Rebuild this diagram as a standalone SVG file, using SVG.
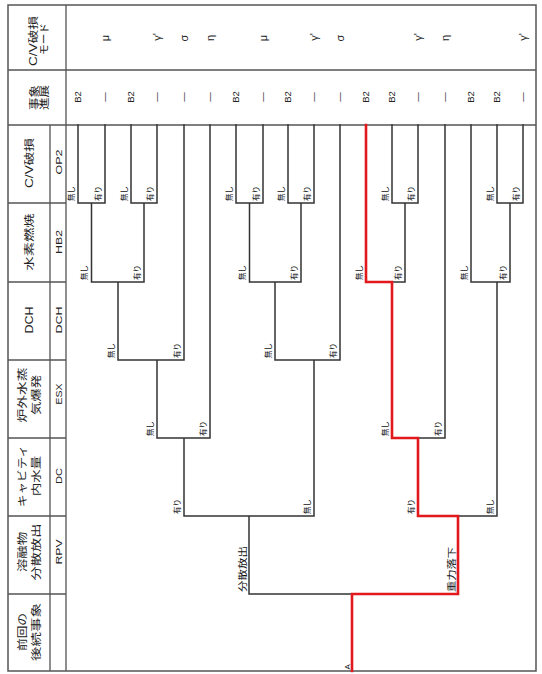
<svg xmlns="http://www.w3.org/2000/svg" width="542" height="674" viewBox="0 0 542 674">
<style>
.frame{fill:none;stroke:#555;stroke-width:1.5}
.grid{stroke:#555;stroke-width:1.3;fill:none}
.tree{stroke:#333;stroke-width:1.5;fill:none;stroke-linecap:square}
.red{stroke:#e3181c;stroke-width:2.6;fill:none;stroke-linecap:square;stroke-linejoin:miter}
.hd{font-family:"Liberation Sans","Noto Sans CJK JP",sans-serif;font-size:10.5px;fill:#222;text-anchor:middle}
.code{font-family:"Liberation Sans",sans-serif;font-size:9px;fill:#222;text-anchor:middle}
.val{font-family:"Liberation Sans",sans-serif;font-size:9.5px;fill:#222;text-anchor:middle}
.mode{font-family:"Liberation Sans","DejaVu Sans",sans-serif;font-size:11px;fill:#222;text-anchor:middle}
.lb{font-family:"Liberation Sans","Noto Sans CJK JP",sans-serif;font-size:7.5px;fill:#111}
.lb2{font-family:"Liberation Sans","Noto Sans CJK JP",sans-serif;font-size:9px;fill:#111}
</style>
<rect width="542" height="674" fill="#fff"/>
<g id="table">
<rect class="frame" x="8" y="5" width="528" height="666"/>
<path class="grid" d="M66 5V671M50 125V671M8 70H536M8 125H536M8 203H66M8 282H66M8 360H66M8 438H66M8 516H66M8 594H66"/>
</g>
<g id="hdr-mode">
<text class="hd" transform="translate(37,41) rotate(-90)" textLength="50" lengthAdjust="spacingAndGlyphs">C/V破損</text>
<text class="hd" transform="translate(48,39) rotate(-90)" textLength="32" lengthAdjust="spacingAndGlyphs">モード</text>
</g>
<g id="hdr-prog">
<text class="hd" transform="translate(38,97.5) rotate(-90)" textLength="25" lengthAdjust="spacingAndGlyphs">事象</text>
<text class="hd" transform="translate(48,97.5) rotate(-90)" textLength="25" lengthAdjust="spacingAndGlyphs">進展</text>
</g>
<g id="hdr-op2">
<text class="hd" transform="translate(33,163) rotate(-90)" textLength="50" lengthAdjust="spacingAndGlyphs">C/V破損</text>
<text class="code" transform="translate(61.5,162) rotate(-90)" textLength="25" lengthAdjust="spacingAndGlyphs">OP2</text>
</g>
<g id="hdr-hb2">
<text class="hd" transform="translate(33,242) rotate(-90)" textLength="57" lengthAdjust="spacingAndGlyphs">水素燃焼</text>
<text class="code" transform="translate(61.5,242) rotate(-90)" textLength="24" lengthAdjust="spacingAndGlyphs">HB2</text>
</g>
<g id="hdr-dch">
<text class="hd" transform="translate(33,320) rotate(-90)" textLength="27" lengthAdjust="spacingAndGlyphs">DCH</text>
<text class="code" transform="translate(61.5,320) rotate(-90)" textLength="27" lengthAdjust="spacingAndGlyphs">DCH</text>
</g>
<g id="hdr-esx">
<text class="hd" transform="translate(26,395) rotate(-90)" textLength="55" lengthAdjust="spacingAndGlyphs">炉外水蒸</text>
<text class="hd" transform="translate(40,395) rotate(-90)" textLength="40" lengthAdjust="spacingAndGlyphs">気爆発</text>
<text class="code" transform="translate(61.5,394) rotate(-90)" textLength="21" lengthAdjust="spacingAndGlyphs">ESX</text>
</g>
<g id="hdr-dc">
<text class="hd" transform="translate(26,476) rotate(-90)" textLength="62" lengthAdjust="spacingAndGlyphs">キャビティ</text>
<text class="hd" transform="translate(40,476) rotate(-90)" textLength="40" lengthAdjust="spacingAndGlyphs">内水量</text>
<text class="code" transform="translate(61.5,476) rotate(-90)" textLength="16" lengthAdjust="spacingAndGlyphs">DC</text>
</g>
<g id="hdr-rpv">
<text class="hd" transform="translate(26,552) rotate(-90)" textLength="40" lengthAdjust="spacingAndGlyphs">溶融物</text>
<text class="hd" transform="translate(40,552) rotate(-90)" textLength="57" lengthAdjust="spacingAndGlyphs">分散放出</text>
<text class="code" transform="translate(61.5,552) rotate(-90)" textLength="25" lengthAdjust="spacingAndGlyphs">RPV</text>
</g>
<g id="hdr-prev">
<text class="hd" transform="translate(26,632) rotate(-90)" textLength="38" lengthAdjust="spacingAndGlyphs">前回の</text>
<text class="hd" transform="translate(40,632) rotate(-90)" textLength="58" lengthAdjust="spacingAndGlyphs">後続事象</text>
</g>
<g id="connectors">
<path class="tree" d="M78 125V203M105 125V203M131 125V203M157 125V203M184 125V360M210 125V438M236 125V203M263 125V203M288 125V203M314 125V203M340 125V360M392 125V203M418 125V203M445 125V438M471 125V282M497 125V203M523 125V203
M78 203H105M131 203H157M236 203H263M288 203H314M392 203H418M497 203H523
M91.5 203V282M144 203V282M249.5 203V282M301 203V282M405 203V282M510 203V282
M91.5 282H144M249.5 282H301M392 282H405M471 282H510
M118 282V360M275 282V360M497 282V516
M118 360H184M275 360H340
M157 360V438M314 360V516
M157 438H210M418 438H445
M184 438V516
M184 516H314M458 516H497
M249 516V594M249 594H352"/>
<path class="red" d="M352 671V594H458V516H418V438H392V282H366V125"/>
</g>
<g id="branch-labels">
<g class="lb">
<text transform="translate(73.5,201) rotate(-90)">無し</text>
<text transform="translate(100.5,201) rotate(-90)">有り</text>
<text transform="translate(126.5,201) rotate(-90)">無し</text>
<text transform="translate(152.5,201) rotate(-90)">有り</text>
<text transform="translate(231.5,201) rotate(-90)">無し</text>
<text transform="translate(258.5,201) rotate(-90)">有り</text>
<text transform="translate(283.5,201) rotate(-90)">無し</text>
<text transform="translate(309.5,201) rotate(-90)">有り</text>
<text transform="translate(387.5,201) rotate(-90)">無し</text>
<text transform="translate(413.5,201) rotate(-90)">有り</text>
<text transform="translate(492.5,201) rotate(-90)">無し</text>
<text transform="translate(518.5,201) rotate(-90)">有り</text>
<text transform="translate(87,280) rotate(-90)">無し</text>
<text transform="translate(139.5,280) rotate(-90)">有り</text>
<text transform="translate(245,280) rotate(-90)">無し</text>
<text transform="translate(296.5,280) rotate(-90)">有り</text>
<text transform="translate(361.5,280) rotate(-90)">無し</text>
<text transform="translate(400.5,280) rotate(-90)">有り</text>
<text transform="translate(466.5,280) rotate(-90)">無し</text>
<text transform="translate(505.5,280) rotate(-90)">有り</text>
<text transform="translate(113.5,358) rotate(-90)">無し</text>
<text transform="translate(179.5,358) rotate(-90)">有り</text>
<text transform="translate(270.5,358) rotate(-90)">無し</text>
<text transform="translate(335.5,358) rotate(-90)">有り</text>
<text transform="translate(152.5,436) rotate(-90)">無し</text>
<text transform="translate(205.5,436) rotate(-90)">有り</text>
<text transform="translate(387.5,436) rotate(-90)">無し</text>
<text transform="translate(440.5,436) rotate(-90)">有り</text>
<text transform="translate(179.5,514) rotate(-90)">有り</text>
<text transform="translate(309.5,514) rotate(-90)">無し</text>
<text transform="translate(413.5,514) rotate(-90)">有り</text>
<text transform="translate(492.5,514) rotate(-90)">無し</text>
</g>
<g class="lb2">
<text transform="translate(246,592) rotate(-90)" textLength="46" lengthAdjust="spacingAndGlyphs">分散放出</text>
<text transform="translate(455,592) rotate(-90)" textLength="45" lengthAdjust="spacingAndGlyphs">重力落下</text>
<text transform="translate(350,669.5) rotate(-90)" style="font-size:8px">A</text>
</g>
</g>
<g id="outcomes">
<g class="val">
<text transform="translate(81.4,97) rotate(-90)">B2</text>
<text transform="translate(108,97) rotate(-90)">—</text>
<text transform="translate(134.4,97) rotate(-90)">B2</text>
<text transform="translate(160,97) rotate(-90)">—</text>
<text transform="translate(187,97) rotate(-90)">—</text>
<text transform="translate(213,97) rotate(-90)">—</text>
<text transform="translate(239.4,97) rotate(-90)">B2</text>
<text transform="translate(266,97) rotate(-90)">—</text>
<text transform="translate(291.4,97) rotate(-90)">B2</text>
<text transform="translate(317,97) rotate(-90)">—</text>
<text transform="translate(343,97) rotate(-90)">—</text>
<text transform="translate(369.4,97) rotate(-90)">B2</text>
<text transform="translate(395.4,97) rotate(-90)">B2</text>
<text transform="translate(421,97) rotate(-90)">—</text>
<text transform="translate(448,97) rotate(-90)">—</text>
<text transform="translate(474.4,97) rotate(-90)">B2</text>
<text transform="translate(500.4,97) rotate(-90)">B2</text>
<text transform="translate(526,97) rotate(-90)">—</text>
</g>
<g class="mode">
<text transform="translate(108.5,38) rotate(-90)">μ</text>
<text transform="translate(160.5,37) rotate(-90)">γ'</text>
<text transform="translate(187.5,38) rotate(-90)">σ</text>
<text transform="translate(213.5,38) rotate(-90)">η</text>
<text transform="translate(266.5,38) rotate(-90)">μ</text>
<text transform="translate(317.5,37) rotate(-90)">γ'</text>
<text transform="translate(343.5,38) rotate(-90)">σ</text>
<text transform="translate(421.5,37) rotate(-90)">γ'</text>
<text transform="translate(448.5,38) rotate(-90)">η</text>
<text transform="translate(526.5,37) rotate(-90)">γ'</text>
</g>
</g>
</svg>
